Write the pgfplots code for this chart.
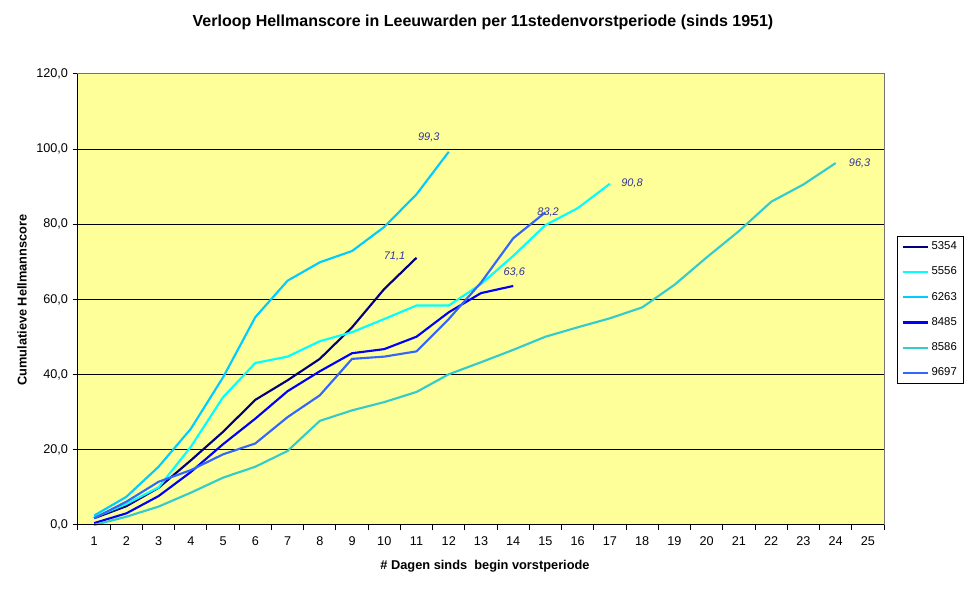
\documentclass[border=0pt]{standalone}
\usepackage{pgfplots}
\pgfplotsset{compat=1.18}
\usepackage{fontspec}
\setmainfont{Liberation Sans}
\definecolor{bgyellow}{HTML}{FFFF99}
\definecolor{cA}{HTML}{000080}
\definecolor{cB}{HTML}{00FFFF}
\definecolor{cC}{HTML}{00CCFF}
\definecolor{cD}{HTML}{0000FF}
\definecolor{cE}{HTML}{33CCCC}
\definecolor{cF}{HTML}{3366FF}
\definecolor{lblc}{HTML}{333399}
\begin{document}
\begin{tikzpicture}
\useasboundingbox (-58.5pt,-49.5pt) rectangle (667.5pt,393.75pt);
\begin{axis}[
  scale only axis, width=604.5pt, height=338.25pt,
  at={(0pt,0pt)}, anchor=south west,
  xmin=0.5, xmax=25.5, ymin=0, ymax=120,
  clip=false,
  axis background/.style={fill=bgyellow},
  axis line style={draw=gray!90!black, line width=0.75pt},
  xtick={1,...,25},
  major x tick style={draw=none},
  minor xtick={0.5,1.5,...,25.5},
  minor x tick style={black, line width=0.75pt},
  minor tick length=4pt,
  ytick={0,20,...,120},
  major y tick style={black, line width=0.75pt},
  major tick length=4pt,
  tick align=outside,
  xtick pos=bottom, ytick pos=left,
  ymajorgrids,
  major grid style={black, line width=0.75pt},
  ticklabel style={font=\fontsize{9.5}{11}\selectfont},
  yticklabel style={/pgf/number format/.cd, fixed, fixed zerofill, precision=1, use comma, assume math mode=true},
  xticklabel style={/pgf/number format/assume math mode=true, yshift=-1pt},
  every axis plot/.append style={line width=1.6pt, mark=none},
  legend style={at={(1.0161,0.6408)}, anchor=north west, draw=black, fill=white,
    line width=0.75pt, font=\fontsize{8.5}{10}\selectfont, row sep=7.5pt,
    inner xsep=3pt, inner ysep=2pt},
  legend cell align=left,
  legend image code/.code={\draw[#1, line width=1.6pt] (0pt,0pt) -- (19pt,0pt);},
]
\addplot[cA] coordinates {(1,1.8)(2,5.0)(3,9.9)(4,17.2)(5,24.8)(6,33.3)(7,38.5)(8,44.2)(9,52.6)(10,62.8)(11,71.1)};
\addlegendentry{5354}
\addplot[cB] coordinates {(1,2.0)(2,5.6)(3,10.0)(4,20.8)(5,34.0)(6,43.1)(7,44.8)(8,48.9)(9,51.3)(10,54.8)(11,58.4)(12,58.4)(13,64.1)(14,71.6)(15,79.8)(16,84.3)(17,90.8)};
\addlegendentry{5556}
\addplot[cC] coordinates {(1,2.5)(2,7.5)(3,15.5)(4,25.6)(5,39.3)(6,55.3)(7,65.0)(8,69.9)(9,72.9)(10,79.3)(11,88.0)(12,99.3)};
\addlegendentry{6263}
\addplot[cD] coordinates {(1,0.5)(2,3.1)(3,7.7)(4,14.1)(5,21.5)(6,28.3)(7,35.6)(8,40.9)(9,45.7)(10,46.8)(11,50.1)(12,56.6)(13,61.7)(14,63.6)};
\addlegendentry{8485}
\addplot[cE] coordinates {(1,0.0)(2,2.2)(3,4.9)(4,8.6)(5,12.6)(6,15.5)(7,19.7)(8,27.7)(9,30.5)(10,32.7)(11,35.4)(12,40.1)(13,43.3)(14,46.6)(15,50.1)(16,52.6)(17,55.0)(18,57.9)(19,63.9)(20,71.2)(21,78.2)(22,86.0)(23,90.6)(24,96.3)};
\addlegendentry{8586}
\addplot[cF] coordinates {(1,1.8)(2,6.2)(3,11.5)(4,14.6)(5,18.8)(6,21.7)(7,28.7)(8,34.5)(9,44.2)(10,44.8)(11,46.2)(12,54.8)(13,64.5)(14,76.3)(15,83.2)};
\addlegendentry{9697}
\draw[black, line width=0.75pt] (rel axis cs:0,1) -- (rel axis cs:0,0) -- (rel axis cs:1,0);
\begin{scope}[every node/.style={font=\itshape\fontsize{8.25}{10}\selectfont, text=lblc}]
\node[xshift=-15pt, yshift=10.5pt] at (axis cs:12,99.3) {99,3};
\node[xshift=-16.5pt, yshift=0.75pt] at (axis cs:11,71.1) {71,1};
\node[xshift=0.75pt, yshift=10.5pt] at (axis cs:14,63.6) {63,6};
\node[xshift=2pt, yshift=0pt] at (axis cs:15,83.2) {83,2};
\node[xshift=16.5pt] at (axis cs:17,90.8) {90,8};
\node[xshift=18pt] at (axis cs:24,96.3) {96,3};
\end{scope}
\end{axis}
\node[font=\bfseries\fontsize{12}{14}\selectfont] at (303.75pt,377.25pt) {Verloop Hellmanscore in Leeuwarden per 11stedenvorstperiode (sinds 1951)};
\node[font=\bfseries\fontsize{9.6}{11}\selectfont] at (305.25pt,-30.75pt) {\# Dagen sinds\ \ begin vorstperiode};
\node[font=\bfseries\fontsize{9.6}{11}\selectfont, rotate=90] at (-42pt,168.75pt) {Cumulatieve Hellmannscore};
\end{tikzpicture}
\end{document}
